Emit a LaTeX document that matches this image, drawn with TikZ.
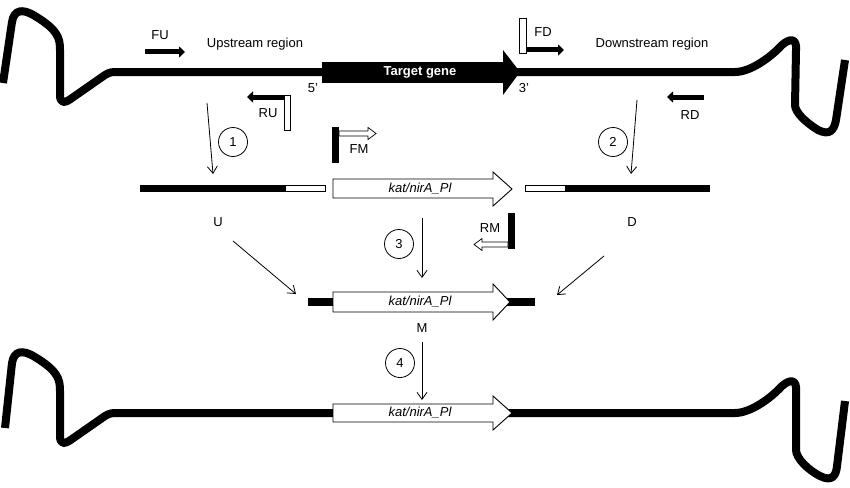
\documentclass[tikz,border=0pt]{standalone}
\usepackage{fontspec}
\setmainfont{Liberation Sans}
\usetikzlibrary{arrows.meta}
\begin{document}
\begin{tikzpicture}[x=1pt,y=-1pt,
  dna/.style={line width=8pt,line join=round},
  lbl/.style={font=\fontsize{13}{15}\selectfont,inner sep=0pt},
  stp/.style={->,>={Straight Barb[length=7pt,width=10pt]},line width=0.8pt},
  num/.style={circle,draw,line width=0.8pt,minimum size=29pt,inner sep=0pt,font=\fontsize{13}{15}\selectfont},
  bigarrow/.style={draw,line width=0.9pt,fill=white},
  prim/.style={line width=5pt,-{Triangle[length=6pt,width=11pt]}},
  oprim/.style={draw,line width=0.8pt,fill=white}]
\useasboundingbox (0,0) rectangle (850,487);
% top strand
\draw[dna] (3,83) -- (12,22) .. controls (14,10) and (22,8) .. (35,16) .. controls (58,30) and (60,38) .. (60,50) -- (60,95) .. controls (60,103) and (64,104) .. (72,98) -- (105,75) .. controls (110,72) and (112,72) .. (118,72) -- (735,72) .. controls (750,72) and (770,58) .. (782,45) .. controls (790,38) and (797,38) .. (796,50) -- (795,105) .. controls (795,112) and (805,122) .. (818,130) .. controls (830,136) and (834,130) .. (836,120) -- (845,60);
\fill (322,62) rectangle (503,83);
\fill (503,50) -- (520,72) -- (503,95) -- cycle;
\node[lbl,text=white,font=\bfseries\fontsize{13}{15}\selectfont] (tg) at (420,72) {Target gene};
\node[lbl] (p5) at (313,88) {5'};
\node[lbl] (p3) at (524,88) {3'};
\node[lbl] (up) at (255,44) {Upstream region};
\node[lbl] (down) at (652,44) {Downstream region};
% primers
\draw[prim] (145,52) -- (185,52);
\node[lbl] (fu) at (160,35) {FU};
\draw[oprim] (519,18) rectangle (526,53);
\draw[prim] (526,50) -- (564,50);
\node[lbl] (fd) at (543,32) {FD};
\draw[prim] (290,97) -- (247,97);
\draw[oprim] (284,95) rectangle (290,130);
\node[lbl] (ru) at (268,113) {RU};
\draw[prim] (704,97) -- (667,97);
\node[lbl] (rd) at (690,115) {RD};
\fill (332,127) rectangle (339,163);
\draw[line width=0.7pt,fill=white] (339,131) -- (368,131) -- (368,127.5) -- (376,133.5) -- (368,139.5) -- (368,136) -- (339,136) -- cycle;
\node[lbl] (fm) at (359,149) {FM};
\fill (508,213) rectangle (515,249);
\draw[line width=0.7pt,fill=white] (508,242) -- (482,242) -- (482,238.5) -- (474,244.5) -- (482,250.5) -- (482,247) -- (508,247) -- cycle;
\node[lbl] (rm) at (490,228) {RM};
% steps
\draw[stp] (207,103) -- (213,174);
\node[num] (n1) at (233,142) {1};
\draw[stp] (637,100) -- (631,174);
\node[num] (n2) at (613,142) {2};
% row 2
\draw[line width=7pt] (140,188) -- (285,188);
\draw[line width=0.7pt,fill=white] (285,185) rectangle (325,191);
\draw[bigarrow] (333,179) -- (493,179) -- (493,172) -- (512,189) -- (493,206) -- (493,198) -- (333,198) -- cycle;
\node[lbl,font=\itshape\fontsize{13}{15}\selectfont] (k1) at (420,189) {kat/nirA\_Pl};
\draw[line width=0.7pt,fill=white] (525,185) rectangle (565,191);
\draw[line width=7pt] (565,188) -- (710,188);
\node[lbl] (u) at (218,222) {U};
\node[lbl] (d) at (632,222) {D};
\draw[stp] (422,218) -- (422,278);
\node[num] (n3) at (399,244) {3};
\draw[stp] (233,241) -- (296,294);
\draw[stp] (604,256) -- (557,295);
% row 3
\draw[line width=8pt] (308,302) -- (535,302);
\draw[bigarrow] (333,292) -- (493,292) -- (493,284) -- (510,302) -- (493,320) -- (493,312) -- (333,312) -- cycle;
\node[lbl,font=\itshape\fontsize{13}{15}\selectfont] (k2) at (420,302) {kat/nirA\_Pl};
\node[lbl] (m) at (422,328) {M};
\draw[stp] (422,342) -- (422,400);
\node[num] (n4) at (400,363) {4};
% bottom strand
\draw[dna] (5,428) -- (12,363) .. controls (14,351) and (22,349) .. (35,357) .. controls (58,371) and (60,379) .. (60,391) -- (60,436) .. controls (60,444) and (64,445) .. (72,439) -- (105,416) .. controls (110,413) and (112,413) .. (118,413) -- (735,413) .. controls (750,413) and (770,399) .. (782,386) .. controls (790,379) and (797,379) .. (796,391) -- (796,450) .. controls (796,458) and (808,470) .. (820,476) .. controls (832,482) and (836,476) .. (837,466) -- (845,401);
\draw[bigarrow] (333,404) -- (493,404) -- (493,396) -- (512,413) -- (493,430) -- (493,422) -- (333,422) -- cycle;
\node[lbl,font=\itshape\fontsize{13}{15}\selectfont] (k3) at (420,413) {kat/nirA\_Pl};
\end{tikzpicture}
\end{document}
